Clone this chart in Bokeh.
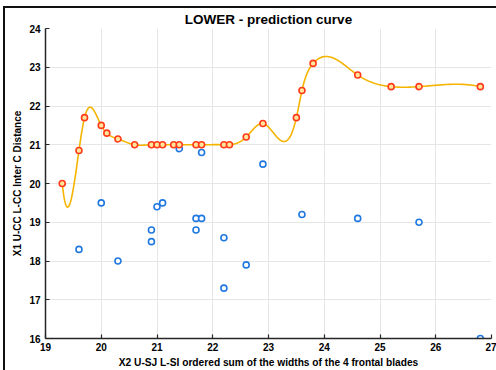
import numpy as np
from bokeh.plotting import figure
from bokeh.models import Range1d, FixedTicker, InlineStyleSheet
from bokeh.embed import file_html
from bokeh.resources import INLINE

# predicted (curve) points
pred_x = [19.3, 19.6, 19.7, 20.0, 20.1, 20.3, 20.6, 20.9, 21.0, 21.1, 21.3, 21.4, 21.7,
          21.8, 22.2, 22.3, 22.6, 22.9, 23.5, 23.6, 23.8, 24.6, 25.2, 25.7, 26.8]
pred_y = [20.0, 20.85, 21.7, 21.5, 21.3, 21.15, 21.0, 21.0, 21.0, 21.0, 21.0, 21.0, 21.0,
          21.0, 21.0, 21.0, 21.2, 21.55, 21.7, 22.4, 23.1, 22.8, 22.5, 22.5, 22.5]
# observed points
obs_x = [19.6, 20.0, 20.3, 20.9, 20.9, 21.0, 21.1, 21.4, 21.7, 21.7, 21.8, 21.8,
         22.2, 22.2, 22.6, 22.9, 23.6, 24.6, 25.7, 26.8]
obs_y = [18.3, 19.5, 18.0, 18.8, 18.5, 19.4, 19.5, 20.9, 19.1, 18.8, 19.1, 20.8,
         18.6, 17.3, 17.9, 20.5, 19.2, 19.1, 19.0, 16.0]
x_ticks = [19, 20, 21, 22, 23, 24, 25, 26, 27]
y_ticks = [16, 17, 18, 19, 20, 21, 22, 23, 24]
title_text = "LOWER - prediction curve"
x_label = "X2 U-SJ L-SI ordered sum of the widths of the 4 frontal blades"
y_label = "X1 U-CC L-CC Inter C Distance"


def spline_notaknot(x, y, n_per=40):
    x = np.asarray(x, float)
    y = np.asarray(y, float)
    n = len(x)
    h = np.diff(x)
    A = np.zeros((n, n))
    b = np.zeros(n)
    A[0, 0], A[0, 1], A[0, 2] = h[1], -(h[0] + h[1]), h[0]
    A[-1, -3], A[-1, -2], A[-1, -1] = h[-1], -(h[-2] + h[-1]), h[-2]
    for i in range(1, n - 1):
        A[i, i - 1] = h[i - 1]
        A[i, i] = 2 * (h[i - 1] + h[i])
        A[i, i + 1] = h[i]
        b[i] = 6 * ((y[i + 1] - y[i]) / h[i] - (y[i] - y[i - 1]) / h[i - 1])
    M = np.linalg.solve(A, b)
    xs, ys = [], []
    for i in range(n - 1):
        t = np.linspace(x[i], x[i + 1], n_per, endpoint=(i == n - 2))
        hi = h[i]
        s = (M[i] * (x[i + 1] - t) ** 3 / (6 * hi) + M[i + 1] * (t - x[i]) ** 3 / (6 * hi)
             + (y[i] / hi - M[i] * hi / 6) * (x[i + 1] - t)
             + (y[i + 1] / hi - M[i + 1] * hi / 6) * (t - x[i]))
        xs.extend(t.tolist())
        ys.extend(s.tolist())
    return xs, ys


FONT = "Liberation Sans"

border_css = InlineStyleSheet(css="""
:host { position: relative; }
:host::after {
  content: "";
  position: absolute;
  left: 3px; top: 6px;
  width: calc(100% - 3px); height: calc(100% - 6px);
  border-left: 2px solid #111; border-top: 2px solid #111;
  box-sizing: border-box;
  pointer-events: none;
  z-index: 100;
}
""")

p = figure(width=496, height=370, output_backend="svg", toolbar_location=None,
           x_range=Range1d(19, 27), y_range=Range1d(16, 24),
           min_border_left=45, min_border_right=5, min_border_top=28, min_border_bottom=31,
           stylesheets=[border_css])
p.outline_line_color = None
p.background_fill_color = "white"
p.border_fill_color = "white"

p.title.text = title_text
p.title.align = "center"
p.title.text_font = FONT
p.title.text_font_style = "bold"
p.title.text_font_size = "13.5px"
p.title.text_color = "black"
p.title.standoff = 4
p.title.offset = 0

for ax in (p.xaxis[0], p.yaxis[0]):
    ax.axis_line_color = "#262626"
    ax.axis_line_width = 1.5
    ax.major_tick_in = 4
    ax.major_tick_out = 0
    ax.major_tick_line_color = "#262626"
    ax.major_tick_line_width = 1.2
    ax.minor_tick_line_color = None
    ax.major_label_text_font = FONT
    ax.major_label_text_font_style = "bold"
    ax.major_label_text_font_size = "10px"
    ax.major_label_text_color = "black"
    ax.axis_label_text_font = FONT
    ax.axis_label_text_font_style = "bold"
    ax.axis_label_text_color = "black"
p.xaxis[0].ticker = FixedTicker(ticks=x_ticks)
p.yaxis[0].ticker = FixedTicker(ticks=y_ticks)
p.xaxis[0].axis_label = x_label
p.yaxis[0].axis_label = y_label
p.xaxis[0].axis_label_text_font_size = "10.2px"
p.yaxis[0].axis_label_text_font_size = "10px"
p.xaxis[0].major_label_standoff = 4
p.yaxis[0].major_label_standoff = 5
p.xaxis[0].axis_label_standoff = 3
p.yaxis[0].axis_label_standoff = 3

p.xgrid.ticker = FixedTicker(ticks=x_ticks)
p.ygrid.ticker = FixedTicker(ticks=y_ticks)
p.grid.grid_line_color = "#e6e6e6"
p.grid.grid_line_width = 1

sx, sy = spline_notaknot(pred_x, pred_y)
p.line(sx, sy, line_color="#f5b400", line_width=1.6)
p.scatter(obs_x, obs_y, marker="circle", size=6, line_color="#1f78e0", line_width=1.6,
          fill_color="white")
p.scatter(pred_x, pred_y, marker="circle", size=6, line_color="#ff3a1a", line_width=1.6,
          fill_color="#ffe69c")

open("out.html", "w").write(file_html(p, INLINE))
